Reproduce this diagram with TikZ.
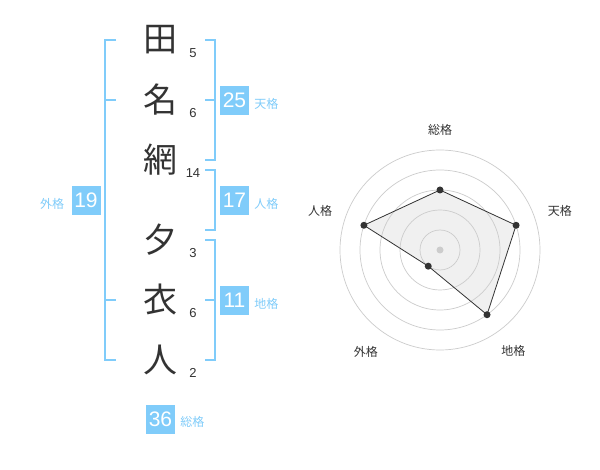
\documentclass[tikz,border=0pt]{standalone}
\usepackage{fontspec}
\setmainfont{Liberation Sans}
\newfontfamily\jpfont{Noto Sans CJK JP}
\usepackage{tikz}
\usetikzlibrary{positioning}
\definecolor{kakublue}{HTML}{80CCFA}
\definecolor{inkgray}{HTML}{333333}
\definecolor{ringgray}{HTML}{CCCCCC}
\definecolor{areagray}{HTML}{F0F0F0}
\tikzset{
  charnode/.style={font=\jpfont\fontsize{34}{34}\selectfont,text=inkgray,inner sep=0pt},
  strokenum/.style={font=\fontsize{13}{13}\selectfont,text=inkgray,inner sep=0pt},
  kakubox/.style={fill=kakublue,text=white,minimum size=29pt,inner sep=0pt,font=\fontsize{21}{21}\selectfont},
  kakulabel/.style={font=\jpfont\fontsize{12}{12}\selectfont,text=kakublue,inner sep=0pt,yshift=-3pt},
  bracket/.style={draw=kakublue,line width=2pt},
  radarlabel/.style={font=\jpfont\fontsize{12}{12}\selectfont,text=inkgray,inner sep=0pt},
  radardot/.style={circle,fill=inkgray,inner sep=0pt,minimum size=7pt}
}

\begin{document}
\begin{tikzpicture}[x=1pt,y=-1pt]
	\fill[white] (0,0) rectangle (600,470);
	\useasboundingbox (0,0) rectangle (600,470);
	% name characters and stroke counts
	\node[charnode] (c1) at (160,40) {田};
	\node[charnode] (c2) at (160,100) {名};
	\node[charnode] (c3) at (160,160) {網};
	\node[charnode] (c4) at (160,240) {夕};
	\node[charnode] (c5) at (160,300) {衣};
	\node[charnode] (c6) at (160,360) {人};
	\node[strokenum] (n1) at (193,53) {5};
	\node[strokenum] (n2) at (193,113) {6};
	\node[strokenum] (n3) at (193,173) {14};
	\node[strokenum] (n4) at (193,253) {3};
	\node[strokenum] (n5) at (193,313) {6};
	\node[strokenum] (n6) at (193,373) {2};
	%
	\path[bracket]
	(116,40) -- (105,40) -- (105,360) -- (116,360)
	(105,100) -- (116,100)
	(105,300) -- (116,300)
	(205,40) -- (215,40) -- (215,160) -- (205,160)
	(215,100) -- (205,100)
	(205,170) -- (215,170) -- (215,230) -- (205,230)
	(205,240) -- (215,240) -- (215,360) -- (205,360)
	(215,300) -- (205,300);
	%
	\node[kakubox] (ten) at (234.5,100.5) {25};
	\node[kakubox] (jin) at (234.5,200.5) {17};
	\node[kakubox] (chi) at (234.5,300.5) {11};
	\node[kakubox] (gai) at (86,200.5) {19};
	\node[kakubox] (sou) at (160.5,419) {36};
	\node[kakulabel,right=5pt of ten] (tenL) {天格};
	\node[kakulabel,right=5pt of jin] (jinL) {人格};
	\node[kakulabel,right=5pt of chi] (chiL) {地格};
	\node[kakulabel,left=7pt of gai] (gaiL) {外格};
	\node[kakulabel,right=5pt of sou] (souL) {総格};
	% radar chart
	\begin{scope}[shift={(440,250)},yscale=-1]
		\coordinate (rSou) at (90:60);
		\coordinate (rTen) at (18:80);
		\coordinate (rChi) at (-54:80);
		\coordinate (rGai) at (-126:20);
		\coordinate (rJin) at (162:80);
		\fill[areagray] (rSou) -- (rTen) -- (rChi) -- (rGai) -- (rJin) -- cycle;
		\foreach \r in {20,40,...,100}
			\draw[ringgray,line width=0.7pt] (0,0) circle[radius=\r pt];
		\fill[ringgray] (0,0) circle[radius=3.5pt];
		\draw[inkgray,line width=0.8pt] (rSou) -- (rTen) -- (rChi) -- (rGai) -- (rJin) -- cycle;
		\foreach \p in {rSou,rTen,rChi,rGai,rJin}
			\node[radardot] at (\p) {};
		\node[radarlabel] (lSou) at (90:120) {総格};
		\node[radarlabel] (lTen) at (18:126) {天格};
		\node[radarlabel] (lChi) at (-54:125) {地格};
		\node[radarlabel] (lGai) at (-126:126) {外格};
		\node[radarlabel] (lJin) at (162:126) {人格};
	\end{scope}
\end{tikzpicture}
\end{document}
